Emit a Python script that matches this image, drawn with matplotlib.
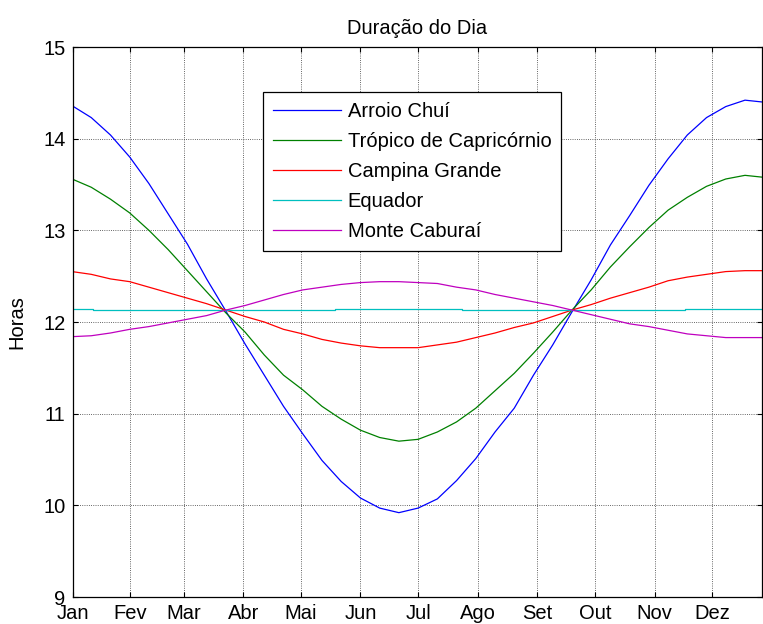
import matplotlib
matplotlib.use("Agg")
import matplotlib.pyplot as plt
import numpy as np

plt.rcParams['font.family'] = ['Liberation Sans', 'DejaVu Sans']

# dias (contados a partir de 0 = 1o de janeiro) e duracao do dia em horas
dias = [1, 11, 21, 31, 41, 51, 61, 71, 81, 91, 101, 111, 121, 131, 141, 151, 161, 171, 181,
        191, 201, 211, 221, 231, 241, 251, 261, 271, 281, 291, 301, 311, 321, 331, 341, 351, 360]

arroio_chui = [14.36, 14.23, 14.04, 13.80, 13.51, 13.18, 12.85, 12.47, 12.12, 11.76, 11.42, 11.08,
               10.78, 10.49, 10.26, 10.08, 9.97, 9.92, 9.97, 10.07, 10.27, 10.51, 10.80, 11.06,
               11.42, 11.75, 12.11, 12.46, 12.84, 13.16, 13.49, 13.78, 14.04, 14.23, 14.35, 14.42, 14.40]

tropico = [13.56, 13.47, 13.34, 13.19, 13.00, 12.79, 12.56, 12.33, 12.10, 11.89, 11.64, 11.42,
           11.26, 11.08, 10.94, 10.82, 10.74, 10.70, 10.72, 10.80, 10.91, 11.06, 11.25, 11.44,
           11.66, 11.89, 12.13, 12.35, 12.60, 12.82, 13.03, 13.22, 13.36, 13.48, 13.56, 13.60, 13.58]

campina = [12.55, 12.52, 12.47, 12.44, 12.38, 12.32, 12.26, 12.20, 12.13, 12.06, 12.00, 11.92,
           11.87, 11.81, 11.77, 11.74, 11.72, 11.72, 11.72, 11.75, 11.78, 11.83, 11.88, 11.94,
           11.99, 12.06, 12.13, 12.19, 12.26, 12.32, 12.38, 12.45, 12.49, 12.52, 12.55, 12.56, 12.56]

caburai = [11.84, 11.85, 11.88, 11.92, 11.95, 11.99, 12.03, 12.07, 12.13, 12.18, 12.24, 12.30,
           12.35, 12.38, 12.41, 12.43, 12.44, 12.44, 12.43, 12.42, 12.38, 12.35, 12.30, 12.26,
           12.22, 12.18, 12.13, 12.08, 12.03, 11.98, 11.95, 11.91, 11.87, 11.85, 11.83, 11.83, 11.83]

# equador: quase constante, com pequenos degraus
dias_eq = [1, 12, 138, 204, 320, 360]
equador = [12.146, 12.13, 12.146, 12.13, 12.146, 12.146]

meses = ['Jan', 'Fev', 'Mar', 'Abr', 'Mai', 'Jun', 'Jul', 'Ago', 'Set', 'Out', 'Nov', 'Dez']
inicio_mes = [1.25, 31, 59, 90, 120, 151, 181, 212, 243, 273, 304, 334]

fig = plt.figure(figsize=(7.63, 6.24), dpi=100)
ax = fig.add_axes([72.5 / 763, 27 / 624, 689.5 / 763, 550 / 624])

lw = 0.9
ax.plot(dias, arroio_chui, color='#0000FF', lw=lw, label='Arroio Chuí')
ax.plot(dias, tropico, color='#008000', lw=lw, label='Trópico de Capricórnio')
ax.plot(dias, campina, color='#FF0000', lw=lw, label='Campina Grande')
ax.step(dias_eq, equador, where='post', color='#00BFBF', lw=lw, label='Equador')
ax.plot(dias, caburai, color='#BF00BF', lw=lw, label='Monte Caburaí')

ax.set_xlim(1.25, 359.85)
ax.set_ylim(9, 15)
ax.set_xticks(inicio_mes)
ax.set_xticklabels(meses)
ax.set_yticks([9, 10, 11, 12, 13, 14, 15])

ax.tick_params(direction='in', length=3.5, width=0.8, top=True, right=True,
               labelsize=14.5, pad=5, colors='black')
ax.tick_params(axis='x', pad=5)
ax.grid(True, color='0.2', linestyle=':', linewidth=0.6)
for s in ax.spines.values():
    s.set_linewidth(0.9)
    s.set_color('black')

ax.set_title('Duração do Dia', fontsize=14.5, pad=9)
ax.set_ylabel('Horas', fontsize=14.5)
ax.yaxis.set_label_coords(-0.0674, 0.5)

leg = ax.legend(loc='upper left', bbox_to_anchor=(0.2763, 0.918), borderaxespad=0,
                fontsize=14.5, fancybox=False, framealpha=1, edgecolor='black',
                handlelength=3.35, handletextpad=0.35, labelspacing=0.54, borderpad=0.5)
leg.get_frame().set_linewidth(0.9)

fig.savefig('out.png', dpi=100)
